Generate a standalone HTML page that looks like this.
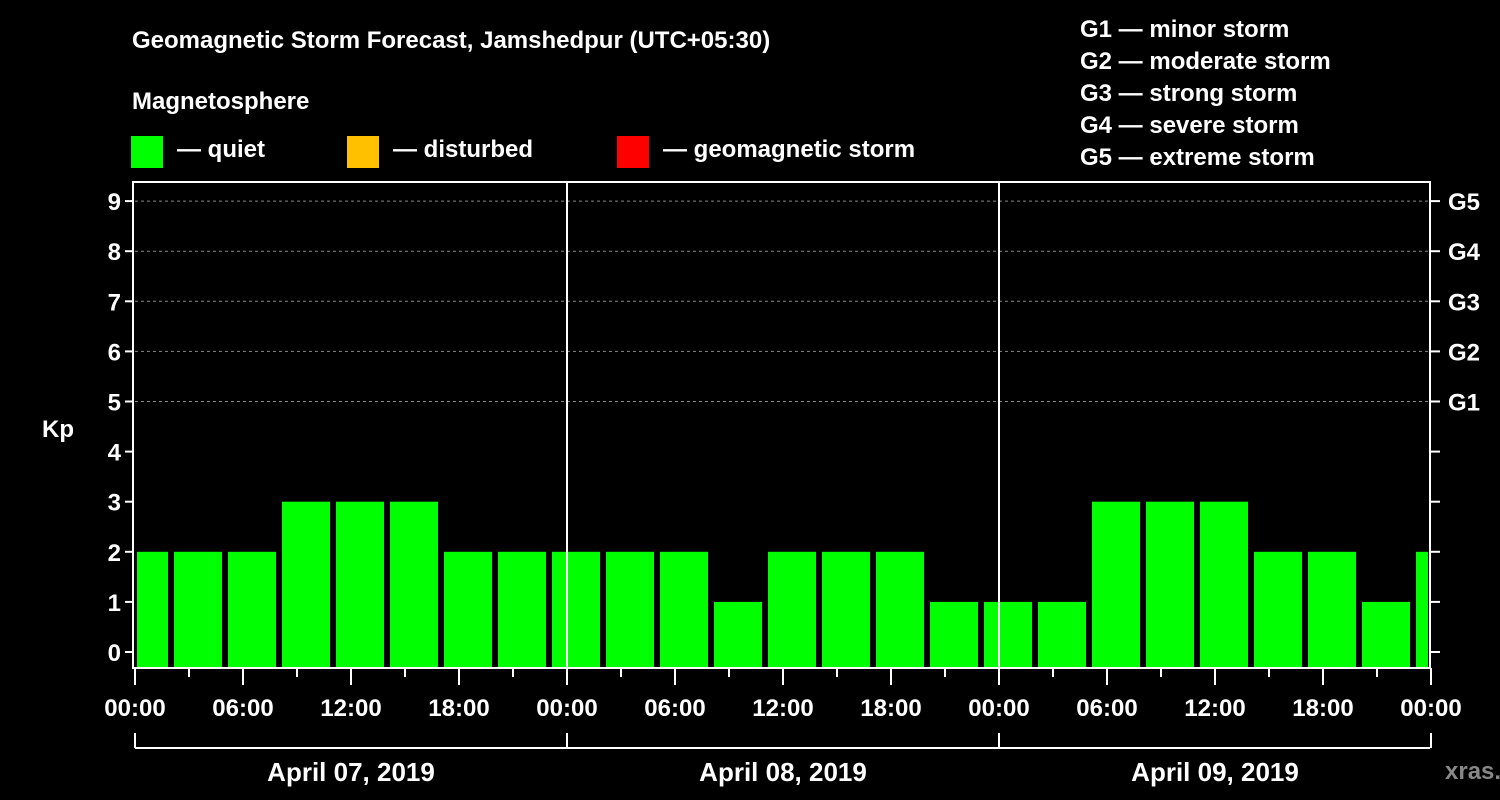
<!DOCTYPE html>
<html><head><meta charset="utf-8"><style>
body{margin:0;background:#000;}
svg{display:block;font-family:"Liberation Sans",Arial,sans-serif;font-weight:bold;}
</style></head><body>
<svg width="1500" height="800" viewBox="0 0 1500 800">
<rect width="1500" height="800" fill="#000"/>
<text x="132" y="48" fill="#fff" font-size="24">Geomagnetic Storm Forecast, Jamshedpur (UTC+05:30)</text>
<text x="132" y="109" fill="#fff" font-size="24">Magnetosphere</text>
<g><rect x="131" y="136" width="32" height="32" fill="#00ff00"/><text x="177" y="157" fill="#fff" font-size="24">— quiet</text></g>
<g><rect x="347" y="136" width="32" height="32" fill="#ffc000"/><text x="393" y="157" fill="#fff" font-size="24">— disturbed</text></g>
<g><rect x="617" y="136" width="32" height="32" fill="#ff0000"/><text x="663" y="157" fill="#fff" font-size="24">— geomagnetic storm</text></g>
<g fill="#fff" font-size="24">
<text x="1080" y="37">G1 — minor storm</text>
<text x="1080" y="69">G2 — moderate storm</text>
<text x="1080" y="101">G3 — strong storm</text>
<text x="1080" y="133">G4 — severe storm</text>
<text x="1080" y="165">G5 — extreme storm</text>
</g>
<text x="42" y="437" fill="#fff" font-size="24">Kp</text>
<text x="1445" y="779" fill="#888" font-size="24">xras.ru</text>
<g id="plot"></g>
</svg>
<script>
const kpValues=[2,2,2,3,3,3,2,2,2,2,2,1,2,2,2,1,1,1,3,3,3,2,2,1,2];
const yTicks=[0,1,2,3,4,5,6,7,8,9];
const gLabels=["G1","G2","G3","G4","G5"];
const xTickLabels=["00:00","06:00","12:00","18:00","00:00","06:00","12:00","18:00","00:00","06:00","12:00","18:00","00:00"];
const dayLabels=["April 07, 2019","April 08, 2019","April 09, 2019"];
const L=135,R=1430,T=182,B=668;
const y=v=>652-v*50.1;
const xh=h=>L+h*18; // hours from start
const ns="http://www.w3.org/2000/svg";
const g=document.getElementById('plot');
function mk(t,a,txt){const e=document.createElementNS(ns,t);for(const k in a)e.setAttribute(k,a[k]);if(txt!==undefined)e.textContent=txt;g.appendChild(e);return e;}
// grid
for(let v=5;v<=9;v++){const e=mk('line',{x1:L,x2:R,y1:y(v),y2:y(v),stroke:'#888','stroke-dasharray':'3,3'});

}
// bars: first is partial (starts ~2h before first full interval)
kpValues.forEach((v,i)=>{
  let x0=xh(2+3*(i-1))+3, x1=x0+48;
  x0=Math.max(x0,L+2); x1=Math.min(x1,R-2);
  const e=mk('rect',{x:x0,y:y(v),width:x1-x0,height:B-y(v),fill:v>=5?'#ff0000':(v>=4?'#ffc000':'#00ff00')});
  
  
});
// day separators
[1,2].forEach(d=>{const e=mk('line',{x1:xh(24*d),x2:xh(24*d),y1:T,y2:B,stroke:'#fff','stroke-width':2});

});
// frame
const fr=mk('rect',{x:L-2,y:T,width:R-L+2,height:B-T,fill:'none',stroke:'#fff','stroke-width':2});


// y ticks
yTicks.forEach(v=>{
  mk('line',{x1:L-10,x2:L-2,y1:y(v),y2:y(v),stroke:'#fff','stroke-width':2});
  mk('line',{x1:R,x2:R+10,y1:y(v),y2:y(v),stroke:'#fff','stroke-width':2});
  const t=mk('text',{x:L-14,y:y(v)+9,fill:'#fff','font-size':24,'text-anchor':'end'},String(v));
  
  
});
gLabels.forEach((s,i)=>{const t=mk('text',{x:R+18,y:y(5+i)+9,fill:'#fff','font-size':24},s);

});
// x ticks
for(let h=0;h<=72;h+=3){const major=h%6===0;
  mk('line',{x1:xh(h),x2:xh(h),y1:B,y2:B+(major?17:9),stroke:'#fff','stroke-width':2});}
xTickLabels.forEach((s,i)=>{const t=mk('text',{x:xh(6*i),y:716,fill:'#fff','font-size':24,'text-anchor':'middle'},s);

});
// date bracket
mk('line',{x1:L,x2:R,y1:748,y2:748,stroke:'#fff','stroke-width':2});
[0,1,2,3].forEach(d=>mk('line',{x1:xh(24*d),x2:xh(24*d),y1:733,y2:748,stroke:'#fff','stroke-width':2}));
dayLabels.forEach((s,i)=>{const t=mk('text',{x:xh(24*i+12),y:781,fill:'#fff','font-size':26,'text-anchor':'middle'},s);

});
</script>
</body></html>
